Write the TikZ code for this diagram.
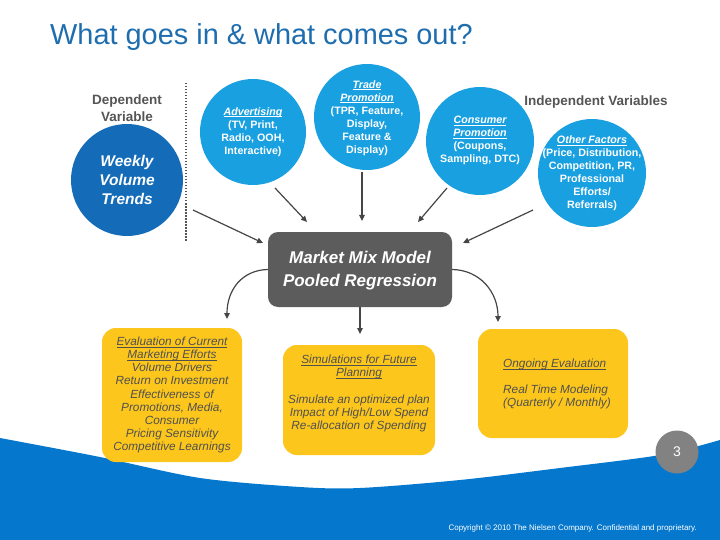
\documentclass[tikz,border=0pt]{standalone}
\usepackage{fontspec}
\setmainfont{Liberation Sans}
\usetikzlibrary{arrows.meta}
\newcommand{\myul}[1]{\underline{\raisebox{0pt}[\height][0pt]{#1}}}
\definecolor{titleblue}{RGB}{30,110,175}
\definecolor{cyanc}{RGB}{25,160,225}
\definecolor{darkc}{RGB}{20,108,185}
\definecolor{hdrgray}{RGB}{85,85,85}
\definecolor{boxgray}{RGB}{92,92,92}
\definecolor{ygold}{RGB}{252,198,28}
\definecolor{ytextc}{RGB}{80,80,80}
\definecolor{arrowc}{RGB}{70,70,70}
\definecolor{nblue}{RGB}{5,120,205}
\definecolor{pagegray}{RGB}{130,130,130}
\begin{document}
\begin{tikzpicture}[x=1pt,y=-1pt,
  cyancirc/.style={circle, fill=cyanc, minimum size=#1, inner sep=0},
  circtext/.style={text=white, font=\fontsize{10.7}{13}\selectfont\bfseries, align=center, inner sep=0},
  ybox/.style={rounded corners=14pt, fill=ygold, inner sep=0},
  ytext/.style={text=ytextc, font=\fontsize{11.8}{13.1}\selectfont\itshape, inner sep=0},
  arr/.style={draw=arrowc, line width=1.2pt, -{Triangle[length=6pt,width=5.5pt]}},
  hdr/.style={text=hdrgray, font=\fontsize{13.5}{17}\selectfont\bfseries, align=center, inner sep=0}]
\useasboundingbox (0,0) rectangle (720,540);
\fill[white] (0,0) rectangle (720,540);

% bottom wave
\fill[nblue] plot[smooth] coordinates {(0,438) (100,457) (200,478) (300,487) (360,488) (460,480) (560,468) (660,455) (720,440)} -- (720,540) -- (0,540) -- cycle;

% title
\node[anchor=base west, inner sep=0, text=titleblue, font=\fontsize{28.9}{32}\selectfont] (title) at (50,45) {What goes in \& what comes out?};

% headers
\node[hdr] (dep) at (127,108.5) {Dependent\\Variable};
\node[hdr] (indep) at (596,102) {Independent Variables};

% dotted separator
\coordinate (sepA) at (186,83);
\coordinate (sepB) at (186,241);
\draw[hdrgray, line width=1.6pt, dash pattern=on 1.5pt off 1.5pt] (sepA) -- (sepB);

% dependent circle
\node[circle, fill=darkc, minimum size=112pt, inner sep=0] (weekly) at (127,180) {};
\node[text=white, font=\fontsize{15.5}{19}\selectfont\bfseries\itshape, align=center, inner sep=0] (weeklyT) at (weekly.center) {Weekly\\Volume\\Trends};

% independent circles
\node[cyancirc=106pt] (adv) at (253,132) {};
\node[circtext] (advT) at (adv.center) {\myul{\itshape Advertising}\\(TV, Print,\\Radio, OOH,\\Interactive)};

\node[cyancirc=106pt] (trade) at (367,117) {};
\node[circtext] (tradeT) at (367,118) {\myul{\itshape Trade}\\\myul{\itshape Promotion}\\(TPR, Feature,\\Display,\\Feature \&\\Display)};

\node[cyancirc=108pt] (cons) at (480,141) {};
\node[circtext] (consT) at (480,140.5) {\myul{\itshape Consumer}\\\myul{\itshape Promotion}\\(Coupons,\\Sampling, DTC)};

\node[cyancirc=108pt] (other) at (592,173) {};
\node[circtext] (otherT) at (592,173.5) {\myul{\itshape Other Factors}\\(Price, Distribution,\\Competition, PR,\\Professional\\Efforts/\\Referrals)};

% central model box
\node[rounded corners=10pt, fill=boxgray, minimum width=184pt, minimum height=75pt, inner sep=0] (mmm) at (360,269.5) {};
\node[text=white, font=\fontsize{17}{23}\selectfont\bfseries\itshape, align=center, inner sep=0] (mmmT) at (360,270.5) {Market Mix Model\\Pooled Regression};

% input arrows
\coordinate (i1s) at (193,210); \coordinate (i1e) at (263,243);
\coordinate (i2s) at (275,188); \coordinate (i2e) at (307,222);
\coordinate (i3s) at (362,172); \coordinate (i3e) at (362,221);
\coordinate (i4s) at (447,188); \coordinate (i4e) at (418,222);
\coordinate (i5s) at (533,210); \coordinate (i5e) at (463,243);
\draw[arr] (i1s) -- (i1e);
\draw[arr] (i2s) -- (i2e);
\draw[arr] (i3s) -- (i3e);
\draw[arr] (i4s) -- (i4e);
\draw[arr] (i5s) -- (i5e);

% output boxes
\node[ybox, minimum width=140pt, minimum height=134pt] (evalbox) at (172,395) {};
\node[ytext, align=center] (evalT) at (172,395) {\myul{Evaluation of Current}\\\myul{Marketing Efforts}\\Volume Drivers\\Return on Investment\\Effectiveness of\\Promotions, Media,\\Consumer\\Pricing Sensitivity\\Competitive Learnings};

\node[ybox, minimum width=152pt, minimum height=110pt] (simbox) at (359,400) {};
\node[ytext, align=center] (simT) at (359,393.5) {\myul{Simulations for Future}\\\myul{Planning}\\[13.1pt]Simulate an optimized plan\\Impact of High/Low Spend\\Re-allocation of Spending};

\node[ybox, minimum width=150pt, minimum height=109pt] (ongbox) at (553,383.5) {};
\node[ytext, align=left, anchor=west] (ongT) at (503,384) {\myul{Ongoing Evaluation}\\[13.1pt]Real Time Modeling\\(Quarterly / Monthly)};

% output arrows
\coordinate (o1e) at (227,319);
\coordinate (o2e) at (360,334);
\coordinate (o3e) at (498,322);
\draw[arr] (mmm.west) .. controls (242,270) and (227,290) .. (o1e);
\draw[arr] (mmm.south) -- (o2e);
\draw[arr] (mmm.east) .. controls (480,270) and (498,292) .. (o3e);

% page number
\node[circle, fill=pagegray, minimum size=43pt, inner sep=0, text=white, font=\fontsize{14}{16}\selectfont] (page) at (677,452) {3};

% copyright
\node[anchor=base east, inner sep=0, text=white, font=\fontsize{8}{9}\selectfont] (copy) at (697,530) {Copyright © 2010 The Nielsen Company. Confidential and proprietary.};
\end{tikzpicture}
\end{document}
